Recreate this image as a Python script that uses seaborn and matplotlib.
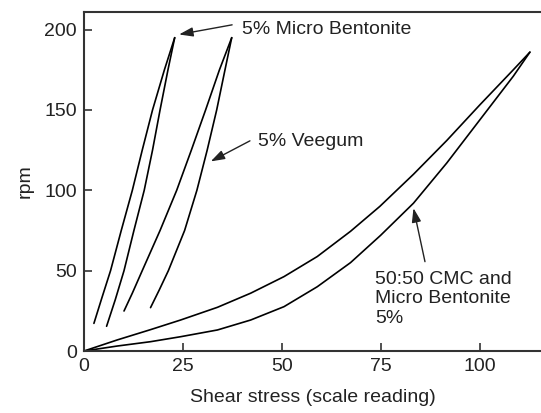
import matplotlib
matplotlib.use("Agg")
import matplotlib.pyplot as plt
import seaborn as sns
import pandas as pd

# Rheogram loops: shear stress (scale reading) vs rpm
bent_up_x = [2.5, 4.5, 6.7, 9.4, 12.2, 14.7, 17.3, 20.3, 22.9]
bent_up_y = [17.2, 33, 50, 75, 100, 125, 150, 175, 195]
bent_down_x = [5.7, 7.9, 10.1, 12.6, 15.2, 17.3, 19.2, 21.2, 22.9]
bent_down_y = [15.4, 32, 50, 75, 100, 125, 150, 175, 195]

veeg_up_x = [10.1, 12.2, 14.7, 19.2, 23.4, 27.1, 30.7, 34.2, 37.3]
veeg_up_y = [24.9, 36, 50, 75, 100, 125, 150, 175, 195]
veeg_down_x = [16.8, 19.0, 21.3, 25.4, 28.5, 31.1, 33.5, 35.6, 37.3]
veeg_down_y = [27, 38, 50, 75, 100, 125, 150, 175, 195]

cmc_up_x = [0, 8.4, 16.8, 24.4, 33.7, 42.1, 50.5, 58.9, 67.3, 74.7, 83.2, 91.6, 100, 108.4, 112.6]
cmc_up_y = [0, 6.9, 13.3, 19.3, 27.2, 36, 46.3, 58.8, 74.5, 90, 110, 131, 153.3, 175, 186]
cmc_down_x = [0, 8.4, 16.8, 24.4, 33.7, 42.1, 50.5, 58.9, 67.3, 74.9, 83.2, 91.6, 100, 108.4, 112.6]
cmc_down_y = [0, 3.1, 5.8, 8.9, 13.1, 19.3, 27.6, 40, 55, 72, 92, 117, 144, 171, 186]

x_ticks = [0, 25, 50, 75, 100]
y_ticks = [0, 50, 100, 150, 200]

curves = {
    "bent_up": (bent_up_x, bent_up_y),
    "bent_down": (bent_down_x, bent_down_y),
    "veeg_up": (veeg_up_x, veeg_up_y),
    "veeg_down": (veeg_down_x, veeg_down_y),
    "cmc_up": (cmc_up_x, cmc_up_y),
    "cmc_down": (cmc_down_x, cmc_down_y),
}

sns.set_style("ticks")
plt.rcParams["font.family"] = ["Liberation Sans", "DejaVu Sans"]
plt.rcParams["font.size"] = 14

fig = plt.figure(figsize=(5.41, 4.13), dpi=100)
ax = fig.add_axes([0.1553, 0.1501, 0.8447, 0.8209])

# one black line per branch of each loop
for name, (xs, ys) in curves.items():
    df = pd.DataFrame({"x": xs, "y": ys})
    sns.lineplot(data=df, x="x", y="y", sort=False, color="black",
                 linewidth=1.2, ax=ax, estimator=None)

ax.set_xlim(0, 115.4)
ax.set_ylim(0, 211)
ax.set_xticks(x_ticks)
ax.set_yticks(y_ticks)
ax.tick_params(direction="in", length=6, width=1.2, colors="#333333",
               labelcolor="#222222", labelsize=14, pad=5)
for side in ["left", "bottom", "top"]:
    ax.spines[side].set_color("#333333")
    ax.spines[side].set_linewidth(1.5)
ax.spines["right"].set_visible(False)

ax.set_xlabel("Shear stress (scale reading)", fontsize=14, color="#222222", labelpad=10)
ax.set_ylabel("rpm", fontsize=14, color="#222222", labelpad=8)

arrow = dict(arrowstyle="-|>,head_length=0.6,head_width=0.2", color="#222222",
             lw=1.0, shrinkA=0, shrinkB=0)

ax.text(39.8, 200, "5% Micro Bentonite", va="center", ha="left", color="#222222")
ax.annotate("", xy=(24, 197), xytext=(37.4, 203), arrowprops=arrow)

ax.text(43.9, 130.4, "5% Veegum", va="center", ha="left", color="#222222")
ax.annotate("", xy=(32, 118), xytext=(41.9, 130.8), arrowprops=arrow)

ax.text(73.5, 32.4, "50:50 CMC and\nMicro Bentonite\n5%", va="center", ha="left",
        color="#222222", linespacing=1.2)
ax.annotate("", xy=(83.2, 88.9), xytext=(86.1, 55.6), arrowprops=arrow)

fig.savefig("out.png", dpi=100)
